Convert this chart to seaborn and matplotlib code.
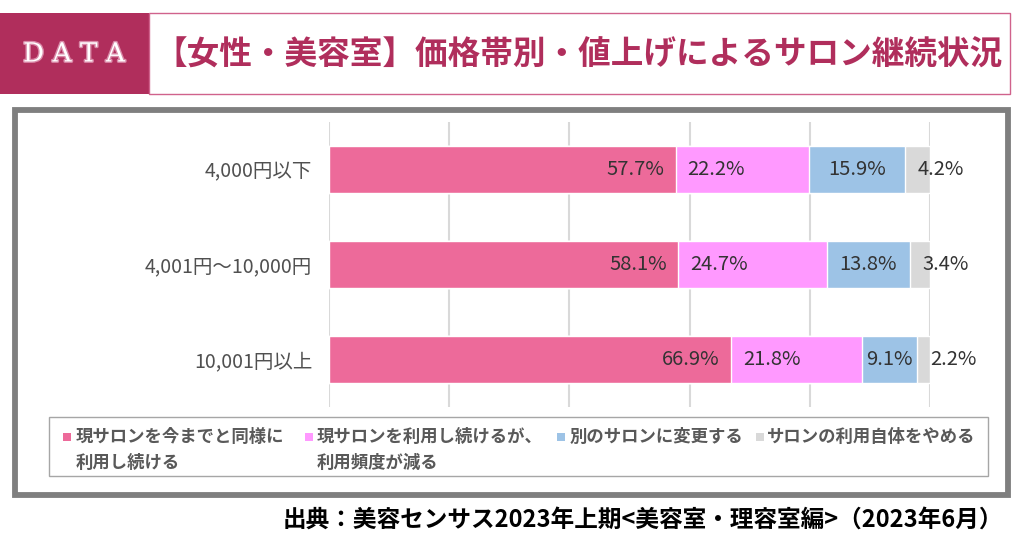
import pandas as pd
import seaborn as sns
import matplotlib.pyplot as plt
from matplotlib.patches import Rectangle
import matplotlib.patheffects as pe

# データ
categories = ["4,000円以下", "4,001円～10,000円", "10,001円以上"]
series_names = ["現サロンを今までと同様に\n利用し続ける",
                "現サロンを利用し続けるが、\n利用頻度が減る",
                "別のサロンに変更する",
                "サロンの利用自体をやめる"]
same = [57.7, 58.1, 66.9]
less_often = [22.2, 24.7, 21.8]
switch = [15.9, 13.8, 9.1]
stop = [4.2, 3.4, 2.2]
colors = ["#ED6A9A", "#FF99FF", "#9DC3E6", "#D9D9D9"]

title = "【女性・美容室】価格帯別・値上げによるサロン継続状況"
source = "出典：美容センサス2023年上期<美容室・理容室編>（2023年6月）"

df = pd.DataFrame({"cat": categories, "s1": same, "s2": less_often,
                   "s3": switch, "s4": stop})
df["c1"] = df["s1"]
df["c2"] = df["c1"] + df["s2"]
df["c3"] = df["c2"] + df["s3"]
df["c4"] = df["c3"] + df["s4"]

sns.set_theme(style="white")
plt.rcParams["font.family"] = ["Noto Sans CJK JP", "DejaVu Sans"]

W, H = 1024, 538
fig = plt.figure(figsize=(W / 100, H / 100), dpi=100)


def fx(x):
    return x / W


def fy(y):
    return 1 - y / H


def rect(x0, y0, x1, y1, **kw):
    fig.patches.append(Rectangle((fx(x0), fy(y1)), fx(x1) - fx(x0), fy(y0) - fy(y1),
                                 transform=fig.transFigure, **kw))


# ヘッダー
rect(0, 13, 149, 94, facecolor="#B02E5C", edgecolor="none")
rect(149, 13, 1010, 94, facecolor="white", edgecolor="#D0628C", linewidth=1)
fig.text(fx(74), fy(54), "D A T A", color="white", fontsize=19, family="DejaVu Serif",
         ha="center", va="center",
         path_effects=[pe.withStroke(linewidth=2, foreground="#D98AA8")])
fig.text(fx(154), fy(55), title, color="#B02E5C", fontsize=23.5, fontweight="bold",
         ha="left", va="center")

# 外枠
rect(14.5, 110, 1008, 495, facecolor="none", edgecolor="#7F7F7F", linewidth=4.2)

# グラフ
ax = fig.add_axes([fx(329), fy(407), fx(930) - fx(329), fy(122) - fy(407)])
for col, c in zip(["c4", "c3", "c2", "c1"], colors[::-1]):
    sns.barplot(data=df, x=col, y="cat", order=categories, color=c, width=0.5,
                orient="h", saturation=1, ax=ax)

ax.set_xlim(0, 100)
ax.set_xticks(range(0, 101, 20))
ax.xaxis.grid(True, color="#D9D9D9", linewidth=1.5)
ax.set_axisbelow(True)
for s in ax.spines.values():
    s.set_visible(False)
ax.set_xlabel("")
ax.set_ylabel("")
ax.tick_params(axis="x", length=0, labelbottom=False)
ax.tick_params(axis="y", length=0, pad=12, labelsize=14, labelcolor="#505050")

lab = dict(fontsize=14.5, color="#333333", va="center", textcoords="offset points")
for i, r in df.iterrows():
    ax.annotate(f"{r.s1:.1f}%", (r.c1, i), xytext=(-8, 0), ha="right", **lab)
    ax.annotate(f"{r.s2:.1f}%", (r.c1, i), xytext=(8.5, 0), ha="left", **lab)
    ax.annotate(f"{r.s3:.1f}%", ((r.c2 + r.c3) / 2, i), xytext=(0, 0), ha="center", **lab)
    ax.annotate(f"{r.s4:.1f}%", (r.c3, i), xytext=(9.5, 0), ha="left",
                annotation_clip=False, **lab)

# 凡例
rect(49, 417, 988, 476, facecolor="none", edgecolor="#A6A6A6", linewidth=1)
marker_x = [63, 305, 557, 756]
text_x = [76, 317, 570, 767]
for mx, tx, name, c in zip(marker_x, text_x, series_names, colors):
    rect(mx, 433, mx + 8, 441, facecolor=c, edgecolor="none")
    lines = name.split("\n")
    for k, line in enumerate(lines):
        fig.text(fx(tx), fy(437 + 26 * k), line, fontsize=12.5, fontweight="bold",
                 color="#595959", ha="left", va="center")

# 出典
fig.text(fx(1003), fy(520), source, fontsize=17, fontweight="bold", color="black",
         ha="right", va="center")

fig.savefig("out.png", dpi=100, facecolor="white")
